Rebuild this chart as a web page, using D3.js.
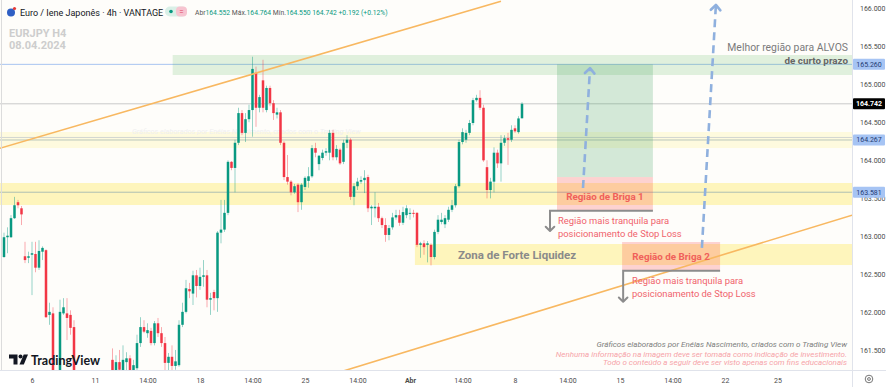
<!DOCTYPE html>
<html><head><meta charset="utf-8">
<script src="https://cdn.jsdelivr.net/npm/d3@7"></script>
<style>html,body{margin:0;padding:0;background:#fff;}svg{display:block;font-family:Roboto,"Open Sans",sans-serif;}</style>
</head><body><svg id="c" width="886" height="387"></svg>
<script>
// ---------- DATA ----------
const opens=[162.73,162.99,162.99,163.24,163.45,163.37,162.74,162.72,162.76,162.77,162.59,162.80,162.82,161.97,161.99,161.05,160.96,161.99,161.99,161.97,161.81,161.12,161.02,160.95,161.04,161.10,161.00,160.90,160.98,161.08,161.15,161.38,161.22,161.35,161.22,161.35,161.40,161.18,161.27,161.60,161.81,161.73,161.76,161.60,161.86,161.73,161.60,161.34,161.42,161.30,161.31,161.84,162.01,162.31,162.25,162.49,162.35,162.47,162.49,162.17,162.27,162.19,163.05,163.09,163.31,163.98,163.90,164.23,164.62,164.36,164.54,164.66,165.15,164.69,165.05,164.66,164.95,164.75,164.60,164.63,164.23,163.78,163.72,163.58,163.68,163.45,163.65,163.73,163.79,164.16,163.95,164.03,164.10,164.10,164.36,164.04,164.14,163.98,164.23,164.27,163.52,163.66,163.72,163.74,163.78,163.37,163.37,163.39,163.24,163.15,163.02,163.12,163.25,163.28,163.18,163.28,163.30,163.31,163.31,162.89,162.91,162.89,162.89,162.73,163.06,163.19,163.16,163.22,163.35,163.41,163.66,164.24,164.27,164.36,164.49,164.79,164.82,164.69,163.91,163.61,163.72,164.10,163.96,164.23,164.29,164.27,164.42,164.37,164.552];
const highs=[163.05,163.12,163.28,163.52,163.48,163.40,162.93,162.80,162.93,162.93,162.95,162.87,162.83,162.13,162.07,161.18,162.17,162.19,162.19,162.03,161.90,161.20,161.10,161.08,161.15,161.18,161.06,161.02,161.12,161.20,161.22,161.53,161.44,161.51,161.57,161.48,161.44,161.38,161.71,161.94,161.90,161.86,161.80,161.89,161.93,161.81,161.68,161.47,161.57,161.51,161.90,162.13,162.43,162.39,162.55,162.56,162.59,162.69,162.56,162.26,162.30,163.07,163.48,163.48,164.00,163.99,164.27,164.69,164.66,164.62,164.73,165.36,165.23,164.86,165.32,164.98,164.98,164.79,164.69,164.66,164.25,164.07,163.74,163.69,163.70,163.70,163.79,163.91,164.20,164.23,164.07,164.14,164.16,164.40,164.40,164.20,164.16,164.27,164.33,164.29,163.70,163.77,163.79,163.87,163.81,163.41,163.58,163.44,163.26,163.24,163.15,163.31,163.35,163.35,163.39,163.41,163.37,163.35,163.32,162.93,162.95,162.94,162.91,163.09,163.28,163.31,163.28,163.39,163.48,163.69,164.27,164.42,164.40,164.53,164.82,164.86,164.92,164.73,164.00,163.77,164.17,164.14,164.33,164.33,164.36,164.46,164.46,164.58,164.764];
const lows=[162.72,162.78,162.98,163.23,163.37,163.15,162.65,162.65,162.23,162.53,162.56,162.69,161.93,161.84,160.96,160.85,160.92,161.97,161.64,161.71,161.01,160.95,160.88,160.85,160.98,160.96,160.82,160.80,160.92,161.00,161.05,161.14,161.14,161.12,161.18,161.22,161.12,161.05,161.22,161.55,161.73,161.67,161.57,161.57,161.68,161.55,161.22,161.22,161.22,161.25,161.29,161.81,161.99,162.19,162.10,162.20,162.30,162.34,162.07,161.97,162.03,162.01,162.91,163.06,163.28,163.87,163.58,164.20,164.33,164.24,164.50,164.31,164.44,164.63,164.63,164.63,164.71,164.53,164.55,164.20,163.74,163.68,163.54,163.56,163.32,163.35,163.61,163.64,163.77,164.04,163.87,164.00,164.06,164.00,164.00,164.00,163.94,163.95,164.16,163.48,163.41,163.61,163.69,163.57,163.32,163.15,163.25,163.19,163.11,162.93,162.95,163.09,163.22,163.14,163.15,163.24,163.22,163.25,162.86,162.72,162.76,162.66,162.62,162.70,163.03,163.16,163.11,163.19,163.32,163.38,163.64,164.21,164.23,164.33,164.46,164.77,164.66,163.98,163.50,163.50,163.58,163.90,163.72,164.19,163.94,164.24,164.36,164.35,164.550];
const closes=[162.99,163.01,163.24,163.41,163.41,163.29,162.69,162.74,162.78,162.59,162.81,162.85,161.94,162.01,161.05,160.96,162.01,162.07,161.93,161.80,161.12,161.02,160.95,161.04,161.10,161.00,160.90,160.98,161.08,161.15,161.20,161.22,161.35,161.25,161.38,161.40,161.22,161.31,161.60,161.81,161.75,161.77,161.60,161.86,161.73,161.60,161.34,161.42,161.30,161.36,161.84,162.01,162.32,162.28,162.49,162.35,162.47,162.49,162.17,162.19,162.19,163.05,163.09,163.31,163.98,163.90,164.23,164.62,164.36,164.54,164.66,165.20,164.69,164.83,164.69,164.95,164.75,164.62,164.63,164.23,163.78,163.72,163.58,163.66,163.45,163.68,163.77,163.79,164.16,164.10,164.06,164.10,164.12,164.36,164.04,164.15,163.96,164.23,164.27,163.52,163.66,163.72,163.74,163.77,163.37,163.39,163.39,163.24,163.15,163.02,163.11,163.25,163.28,163.18,163.32,163.37,163.31,163.30,162.89,162.91,162.86,162.91,162.73,163.06,163.22,163.22,163.24,163.35,163.41,163.66,164.24,164.37,164.36,164.49,164.79,164.82,164.69,164.00,163.61,163.72,164.10,163.96,164.23,164.29,164.27,164.40,164.38,164.55,164.742];

const yTicks=[161.5,162,162.5,163,163.5,164,164.5,165,165.5,166];
const xTickIdx=[8,26,41,56,71,86,101,116,131,146,161,176,191,206,221];
const xTickLabels=["6","11","14:00","18","14:00","25","14:00","Abr","14:00","8","14:00","15","14:00","22","25"];

const levelBlue=165.26, levelLast=164.742, levelMid=164.267, levelMid2=164.30, levelLow=163.581;
// zones: [fromIdx, toIdx, lowPrice, highPrice]
const zoneAlvos=[48.2,250,165.12,165.383];
const bandUpper=[-5,250,164.161,164.372];
const bandLower=[-5,250,163.413,163.702];
const bandLiquidez=[117.4,250,162.625,162.901];
const targetBox=[158,185.4,163.78,165.26];
const briga1Box=[158,185.4,163.338,163.78];
const briga2Box=[176.6,204.6,162.559,162.927];
// trend lines and arrows: [[idx,price],[idx,price]]
const upperTrend=[[-1.2,164.157],[142,166.09]];
const lowerTrend=[[96,161.22],[242.3,163.28]];
const arrowUp1=[[165.43,163.636],[167.43,165.21]];
const arrowUp2=[[199.4,162.85],[203.4,166.04]];
const stop1=[[185.4,163.338],[156,163.338],[156,163.072]];
const stop2=[[204.6,162.55],[176.9,162.55],[176.9,162.143]];
// legend (header) text pieces
const legendParts=[["Abr",0],["164.552",1],[" Máx.",0],["164.764",1],[" Mín.",0],["164.550",1],[" 164.742 +0.192 (+0.12%)",1]];

// ---------- SCALES ----------
const PR=852, PB=370;
const xs=d3.scaleLinear().domain([0,148]).range([4,522]);
const ys=d3.scaleLinear().domain([161.5,166]).range([350.7,8]);

const svg=d3.select('#c');
svg.append('rect').attr('width',886).attr('height',387).attr('fill','#ffffff');
svg.append('defs').append('clipPath').attr('id','clip').append('rect').attr('x',0).attr('y',0).attr('width',PR).attr('height',PB);
const plot=svg.append('g').attr('clip-path','url(#clip)');
plot.append('rect').attr('width',PR).attr('height',PB).attr('fill','#fefdfa');

function zone(z,fill){
  plot.append('rect').attr('x',xs(z[0])).attr('width',xs(z[1])-xs(z[0]))
    .attr('y',ys(z[3])).attr('height',ys(z[2])-ys(z[3])).attr('fill',fill);
}
zone(bandUpper,'rgba(255,235,59,0.14)');
zone(bandLower,'rgba(255,230,60,0.32)');
zone(bandLiquidez,'rgba(255,230,60,0.32)');

function hline(p,color,w){
  plot.append('line').attr('x1',0).attr('x2',PR).attr('y1',ys(p)).attr('y2',ys(p)).attr('stroke',color).attr('stroke-width',w||1);
}
hline(levelBlue,'#a8c4f0');
hline(levelLast,'#c9c9c9');
hline(levelMid2,'#d3d6d0');
hline(levelMid,'#b9c6bb');
hline(levelLow,'#aebfb3');

zone(zoneAlvos,'rgba(76,175,80,0.17)');
zone(targetBox,'rgba(60,160,90,0.22)');
zone(briga1Box,'rgba(250,60,60,0.22)');
zone(briga2Box,'rgba(250,60,60,0.22)');

// watermark
plot.append('text').attr('x',132).attr('y',133.5).attr('font-size',7.3).attr('font-style','italic').attr('fill','#efefef')
  .text('Gráficos elaborados por Enéias Nascimento, criados com o Trading View');

// candles
const candles=d3.range(opens.length).map(i=>({i,o:opens[i],h:highs[i],l:lows[i],c:closes[i]}));
const up=d=>d.c>=d.o;
plot.append('g').selectAll('line').data(candles).join('line')
  .attr('x1',d=>xs(d.i)).attr('x2',d=>xs(d.i)).attr('y1',d=>ys(d.h)).attr('y2',d=>ys(d.l))
  .attr('stroke',d=>up(d)?'rgba(8,153,129,0.42)':'rgba(242,54,69,0.42)').attr('stroke-width',1);
plot.append('g').selectAll('rect').data(candles).join('rect')
  .attr('x',d=>xs(d.i)-1.25).attr('width',2.5)
  .attr('y',d=>ys(Math.max(d.o,d.c))).attr('height',d=>Math.max(1,Math.abs(ys(d.o)-ys(d.c))))
  .attr('fill',d=>up(d)?'#089981':'#f23645');

// trend lines
const lineGen=d3.line().x(d=>xs(d[0])).y(d=>ys(d[1]));
[upperTrend,lowerTrend].forEach(t=>plot.append('path').attr('d',lineGen(t)).attr('fill','none').attr('stroke','#f8b861').attr('stroke-width',1.6));

// arrows
function chevron(tip,from,len,ang,color,w){
  const tx=xs(tip[0]),ty=ys(tip[1]),fx=xs(from[0]),fy=ys(from[1]);
  const a=Math.atan2(fy-ty,fx-tx);
  const p=[[tx+len*Math.cos(a+ang),ty+len*Math.sin(a+ang)],[tx,ty],[tx+len*Math.cos(a-ang),ty+len*Math.sin(a-ang)]];
  plot.append('path').attr('d',d3.line()(p)).attr('fill','none').attr('stroke',color).attr('stroke-width',w).attr('stroke-linecap','round').attr('stroke-linejoin','round');
}
[arrowUp1,arrowUp2].forEach(a=>{
  plot.append('path').attr('d',lineGen(a)).attr('fill','none').attr('stroke','#8fb0de').attr('stroke-width',2.6).attr('stroke-dasharray','8,5');
  chevron(a[1],a[0],7,0.75,'#8fb0de',2.6);
});
[stop1,stop2].forEach(s=>{
  plot.append('path').attr('d',lineGen(s)).attr('fill','none').attr('stroke','#8c8c8c').attr('stroke-width',2);
  chevron(s[2],s[1],6,0.8,'#8c8c8c',2);
});

// annotation texts
const ann=svg.append('g');
ann.append('text').attr('x',(xs(briga1Box[0])+xs(briga1Box[1]))/2).attr('y',(ys(briga1Box[2])+ys(briga1Box[3]))/2+6.5)
  .attr('text-anchor','middle').attr('font-size',9.8).attr('font-weight','bold').attr('fill','#f0605a').text('Região de Briga 1');
ann.append('text').attr('x',(xs(briga2Box[0])+xs(briga2Box[1]))/2).attr('y',(ys(briga2Box[2])+ys(briga2Box[3]))/2+3.5)
  .attr('text-anchor','middle').attr('font-size',9.8).attr('font-weight','bold').attr('fill','#f0605a').text('Região de Briga 2');
ann.append('text').attr('x',xs(bandLiquidez[0])+43).attr('y',(ys(bandLiquidez[2])+ys(bandLiquidez[3]))/2+4)
  .attr('font-size',11.5).attr('font-weight','bold').attr('fill','#8a8a8a').text('Zona de Forte Liquidez');
[[stop1,558],[stop2,632]].forEach(([s,x])=>{
  const y0=ys(s[0][1]);
  ann.append('text').attr('x',x).attr('y',y0+13).attr('font-size',9.4).attr('fill','#f0636c').text('Região mais tranquila para');
  ann.append('text').attr('x',x).attr('y',y0+26).attr('font-size',9.4).attr('fill','#f0636c').text('posicionamento de Stop Loss');
});
ann.append('text').attr('x',848).attr('y',51).attr('text-anchor','end').attr('font-size',10.4).attr('fill','#7a7a7a').text('Melhor região para ALVOS');
ann.append('text').attr('x',848).attr('y',63.5).attr('text-anchor','end').attr('font-size',9.8).attr('font-weight','bold').attr('fill','#666').text('de curto prazo');

// credits
ann.append('text').attr('x',847).attr('y',347).attr('text-anchor','end').attr('font-size',8).attr('font-style','italic').attr('fill','#7d7d7d')
  .text('Gráficos elaborados por Enéias Nascimento, criados com o Trading View');
ann.append('text').attr('x',847).attr('y',356.5).attr('text-anchor','end').attr('font-size',8).attr('font-style','italic').attr('fill','#f6a3a8')
  .text('Nenhuma informação na imagem deve ser tomada como indicação de investimento.');
ann.append('text').attr('x',847).attr('y',364.8).attr('text-anchor','end').attr('font-size',8).attr('font-style','italic').attr('fill','#f6a3a8')
  .text('Todo o conteúdo a seguir deve ser visto apenas com fins educacionais');

// TradingView logo
const logo=svg.append('g');
logo.append('path').attr('d','M9 354.5h8.5v10h-4v-6h-4.5z').attr('fill','#131722');
logo.append('circle').attr('cx',20.5).attr('cy',356.5).attr('r',2).attr('fill','#131722');
logo.append('path').attr('d','M19.5 364.5l4.2-10h4.3l-4.2 10z').attr('fill','#131722');
logo.append('text').attr('x',31).attr('y',364.5).attr('font-size',12.5).attr('font-weight','bold').attr('fill','#131722').attr('font-family','Lato, Roboto, sans-serif').text('TradingView');

// header
const hd=svg.append('g');
hd.append('circle').attr('cx',11).attr('cy',12.5).attr('r',4).attr('fill','#2f5fc4');
hd.append('circle').attr('cx',14.5).attr('cy',8.5).attr('r',1.6).attr('fill','#e53935');
hd.append('text').attr('x',20).attr('y',15.5).attr('font-size',9).attr('fill','#131722').text('Euro / Iene Japonês · 4h · VANTAGE');
hd.append('rect').attr('x',165).attr('y',6.5).attr('width',22).attr('height',10).attr('rx',5).attr('fill','#d9f0e7');
hd.append('rect').attr('x',176).attr('y',6.5).attr('width',11).attr('height',10).attr('rx',4).attr('fill','#f7c4d0');
hd.append('circle').attr('cx',171).attr('cy',11.5).attr('r',1.8).attr('fill','#089981');
hd.append('text').attr('x',181.5).attr('y',14.3).attr('text-anchor','middle').attr('font-size',8).attr('fill','#e04060').text('=');
const lg=hd.append('text').attr('x',195).attr('y',14.5).attr('font-size',7.4);
legendParts.forEach(([t,isVal])=>lg.append('tspan').attr('fill',isVal?'#089981':'#555').text(t));
const lgW=lg.node().getComputedTextLength();
if(lgW>0) lg.attr('font-size',Math.min(8.5,7.4*193/lgW));

hd.append('text').attr('x',9).attr('y',37).attr('font-size',11).attr('font-weight','bold').attr('fill','#cdcdcd').text('EURJPY H4');
hd.append('text').attr('x',9).attr('y',48.5).attr('font-size',11).attr('font-weight','bold').attr('fill','#cdcdcd').text('08.04.2024');

// borders
svg.append('line').attr('x1',1.5).attr('x2',1.5).attr('y1',0).attr('y2',PB).attr('stroke','#dcdcdc');
svg.append('line').attr('x1',PR+0.5).attr('x2',PR+0.5).attr('y1',0).attr('y2',387).attr('stroke','#e0e3eb');
svg.append('line').attr('x1',0).attr('x2',886).attr('y1',PB+0.5).attr('y2',PB+0.5).attr('stroke','#e0e3eb');

// y axis
const yAx=svg.append('g').attr('transform',`translate(${PR+5},0)`)
  .call(d3.axisRight(ys).tickValues(yTicks).tickFormat(d3.format('.3f')).tickSize(0));
yAx.select('.domain').remove();
yAx.selectAll('text').attr('font-size',7).attr('fill','#4a4a4a').attr('font-family','Roboto, sans-serif');

function priceLabel(p,bg,fg,bold){
  const g=svg.append('g');
  g.append('rect').attr('x',PR+1).attr('y',ys(p)-5.5).attr('width',32).attr('height',11).attr('fill',bg).attr('rx',1);
  g.append('text').attr('x',PR+17).attr('y',ys(p)+2.5).attr('text-anchor','middle').attr('font-size',7).attr('fill',fg)
    .attr('font-weight',bold?'bold':'normal').text(d3.format('.3f')(p));
}
priceLabel(levelBlue,'#a6c4f4','#1f3b73');
priceLabel(levelLast,'#000000','#ffffff',true);
priceLabel(levelMid,'#a6c4f4','#1f3b73');
priceLabel(levelLow,'#a6c4f4','#1f3b73');

// x axis
const xAx=svg.append('g').attr('transform',`translate(0,${PB+5})`)
  .call(d3.axisBottom(xs).tickValues(xTickIdx).tickFormat((d,k)=>xTickLabels[k]).tickSize(0));
xAx.select('.domain').remove();
xAx.selectAll('text').attr('font-size',7).attr('fill','#4a4a4a').attr('font-family','Roboto, sans-serif')
  .attr('font-weight',(d,k)=>xTickLabels[k]==='Abr'?'bold':'normal');

// gear icon
svg.append('circle').attr('cx',869).attr('cy',379).attr('r',3.8).attr('fill','none').attr('stroke','#777').attr('stroke-width',1);
svg.append('circle').attr('cx',869).attr('cy',379).attr('r',1.4).attr('fill','none').attr('stroke','#777').attr('stroke-width',1);
</script></body></html>
